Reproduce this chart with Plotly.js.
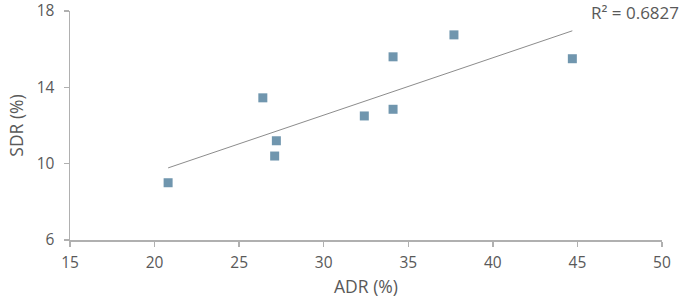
<!DOCTYPE html>
<html>
<head>
<meta charset="utf-8">
<script src="https://cdn.plot.ly/plotly-3.0.1.min.js"></script>
<style>html,body{margin:0;padding:0;background:#fff;}#chart{width:685px;height:301px;}</style>
</head>
<body>
<div id="chart"></div>
<script>
// Data
const adr = [20.8, 26.4, 27.2, 27.1, 32.4, 34.1, 34.1, 37.7, 44.7];
const sdr = [9.0, 13.45, 11.2, 10.4, 12.5, 15.6, 12.85, 16.75, 15.5];
const xTicks = [15, 20, 25, 30, 35, 40, 45, 50];
const yTicks = [6, 10, 14, 18];
const r2Label = "R² = 0.6827";

// Linear least-squares trendline from the data
const n = adr.length;
const mx = adr.reduce((a, b) => a + b, 0) / n;
const my = sdr.reduce((a, b) => a + b, 0) / n;
let sxy = 0, sxx = 0;
for (let i = 0; i < n; i++) { sxy += (adr[i] - mx) * (sdr[i] - my); sxx += (adr[i] - mx) ** 2; }
const slope = sxy / sxx, icpt = my - slope * mx;
const xmin = Math.min(...adr), xmax = Math.max(...adr);
const trendX = [xmin, xmax];
const trendY = trendX.map(v => icpt + slope * v);

const font = "Open Sans, Liberation Sans, sans-serif";
const axisCol = "#b0b0b0";
const textCol = "#595959";

const data = [
  {x: trendX, y: trendY, mode: "lines", type: "scatter",
   line: {color: "#8c8c8c", width: 1}, hoverinfo: "skip", showlegend: false},
  {x: adr, y: sdr, mode: "markers", type: "scatter",
   marker: {symbol: "square", size: 9, color: "#7096ae"}, showlegend: false}
];

const layout = {
  width: 685, height: 301,
  margin: {l: 70, r: 23, t: 11, b: 61},
  paper_bgcolor: "#fff", plot_bgcolor: "#fff",
  font: {family: font, color: textCol, size: 15},
  showlegend: false,
  xaxis: {
    range: [14.999, 50.001], tickvals: xTicks, ticktext: xTicks.map(String),
    showgrid: false, zeroline: false, showline: true, linecolor: axisCol, linewidth: 1.5,
    ticks: "outside", ticklen: 5, tickcolor: axisCol, tickwidth: 1.5,
    ticklabeloverflow: "allow", ticklabelstandoff: 3,
    tickfont: {size: 15.5, color: textCol},
    title: {text: "ADR (%)", font: {size: 17.5, color: textCol}, standoff: 8}
  },
  yaxis: {
    range: [5.999, 18.001], tickvals: yTicks, ticktext: yTicks.map(String),
    showgrid: false, zeroline: false, showline: true, linecolor: axisCol, linewidth: 1.5,
    ticks: "outside", ticklen: 5, tickcolor: axisCol, tickwidth: 1.5,
    ticklabeloverflow: "allow", ticklabelstandoff: 6,
    tickfont: {size: 15.5, color: textCol},
    title: {text: "SDR (%)", font: {size: 17.5, color: textCol}, standoff: 8}
  },
  annotations: [{
    text: r2Label, xref: "paper", yref: "paper", x: 1.032, y: 0.995,
    xanchor: "right", yanchor: "middle", showarrow: false,
    font: {size: 17, color: textCol, family: font}
  }]
};

Plotly.newPlot("chart", data, layout, {staticPlot: true, displayModeBar: false});
</script>
</body>
</html>
